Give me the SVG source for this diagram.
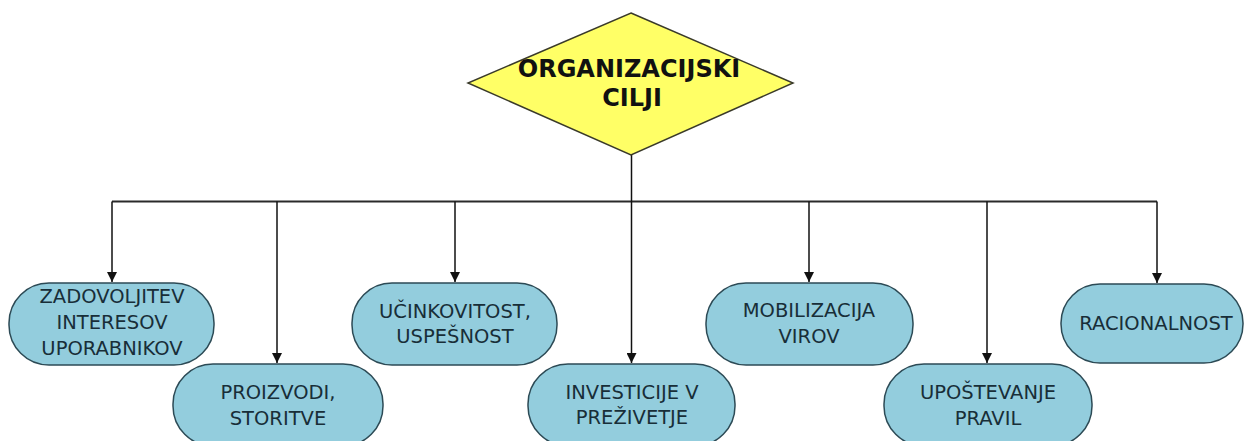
<svg xmlns="http://www.w3.org/2000/svg" width="1245" height="441" viewBox="0 0 1245 441">
  <style>
    .goal { fill: #ffff66; stroke: #3a3a2a; stroke-width: 1.5; }
    .goal-text { font-family: "DejaVu Sans", Verdana, sans-serif; font-weight: bold; font-size: 24px; fill: #111111; text-anchor: middle; }
    .box { fill: #93cddd; stroke: #2c4a55; stroke-width: 1.5; }
    .label { font-family: "DejaVu Sans", Verdana, sans-serif; font-size: 19.5px; fill: #182e38; text-anchor: middle; }
    .bus { fill: none; stroke: #2a2a2a; stroke-width: 2; }
    .link { fill: none; stroke: #111; stroke-width: 1.5; marker-end: url(#tip); }
  </style>
  <defs>
    <marker id="tip" viewBox="0 0 10 10" refX="10" refY="5" markerUnits="userSpaceOnUse" markerWidth="11" markerHeight="10" orient="auto">
      <path d="M0,0 L10,5 L0,10 Z" fill="#111"/>
    </marker>
  </defs>

  <rect width="1245" height="441" fill="#ffffff"/>

  <!-- connectors: trunk, horizontal bus and drop arrows -->
  <g id="connectors">
    <path class="bus" d="M112,201.5 H1157"/>
    <path class="link" d="M631.5,155 V363"/>
    <path class="link" d="M112,201.5 V282"/>
    <path class="link" d="M277,201.5 V363"/>
    <path class="link" d="M455,201.5 V282"/>
    <path class="link" d="M809,201.5 V282"/>
    <path class="link" d="M987,201.5 V363"/>
    <path class="link" d="M1157,201.5 V283"/>
  </g>

  <!-- central goal -->
  <g id="node-goal">
    <polygon class="goal" points="631,13 793,83 631,155 468,83"/>
    <text class="goal-text" x="629" y="77">ORGANIZACIJSKI</text>
    <text class="goal-text" x="632" y="106">CILJI</text>
  </g>

  <g id="node-zadovoljitev">
    <rect class="box" x="9" y="283" width="205" height="82" rx="40" ry="40"/>
    <text class="label" x="112" y="303">ZADOVOLJITEV</text>
    <text class="label" x="112" y="329">INTERESOV</text>
    <text class="label" x="112" y="355">UPORABNIKOV</text>
  </g>

  <g id="node-proizvodi">
    <rect class="box" x="173" y="364" width="210" height="82" rx="40" ry="40"/>
    <text class="label" x="278" y="399">PROIZVODI,</text>
    <text class="label" x="278" y="425">STORITVE</text>
  </g>

  <g id="node-ucinkovitost">
    <rect class="box" x="352" y="283" width="205" height="82" rx="40" ry="40"/>
    <text class="label" x="455" y="318">UČINKOVITOST,</text>
    <text class="label" x="455" y="343">USPEŠNOST</text>
  </g>

  <g id="node-investicije">
    <rect class="box" x="528" y="364" width="207" height="82" rx="40" ry="40"/>
    <text class="label" x="632" y="399">INVESTICIJE V</text>
    <text class="label" x="632" y="424">PREŽIVETJE</text>
  </g>

  <g id="node-mobilizacija">
    <rect class="box" x="706" y="283" width="207" height="82" rx="40" ry="40"/>
    <text class="label" x="809" y="317">MOBILIZACIJA</text>
    <text class="label" x="809" y="343">VIROV</text>
  </g>

  <g id="node-upostevanje">
    <rect class="box" x="884" y="364" width="208" height="82" rx="40" ry="40"/>
    <text class="label" x="988" y="399">UPOŠTEVANJE</text>
    <text class="label" x="988" y="425">PRAVIL</text>
  </g>

  <g id="node-racionalnost">
    <rect class="box" x="1061" y="284" width="182" height="79" rx="39" ry="39"/>
    <text class="label" x="1156" y="330">RACIONALNOST</text>
  </g>
</svg>
